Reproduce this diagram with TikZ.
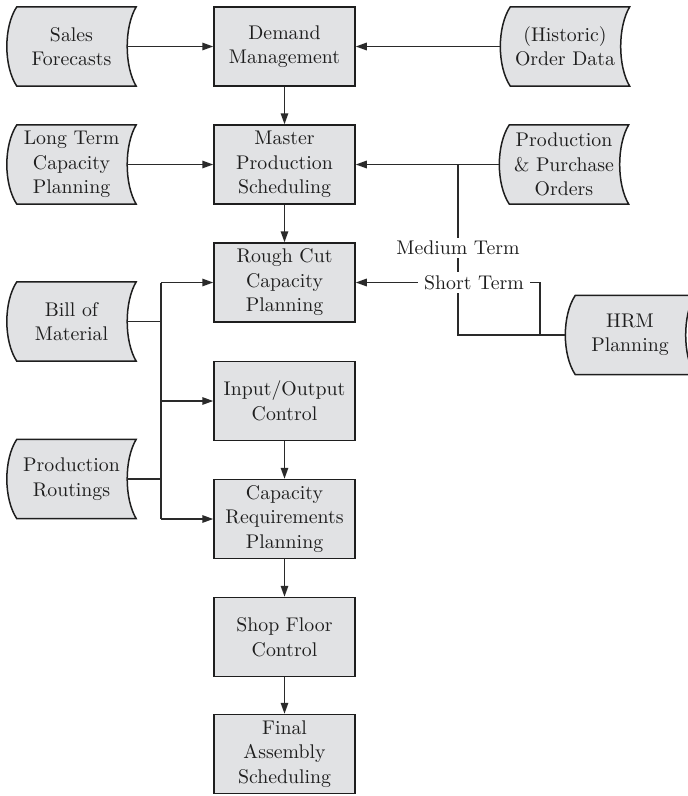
\documentclass[tikz,border=0pt]{standalone}
\usepackage{fontspec}
\setmainfont{lmroman10-regular.otf}
\usetikzlibrary{arrows.meta,backgrounds}
\definecolor{boxgray}{HTML}{E1E2E4}
\definecolor{ink}{HTML}{1E1E1E}
\definecolor{wire}{HTML}{2A2A2A}

% outline of a stored-data symbol: convex left side, concave right side
\newcommand\storeoutline[1]{%
  \path[storeshape] ([xshift=10pt]#1.north west) -- (#1.north east)
    .. controls ([xshift=-12pt,yshift=-20pt]#1.north east) and ([xshift=-12pt,yshift=20pt]#1.south east) .. (#1.south east)
    -- ([xshift=10pt]#1.south west)
    .. controls ([xshift=-3.3pt,yshift=20pt]#1.south west) and ([xshift=-3.3pt,yshift=-20pt]#1.north west) .. ([xshift=10pt]#1.north west)
    -- cycle;}

\begin{document}
\begin{tikzpicture}[x=1pt,y=-1pt,
  every node/.style={font=\fontsize{19.8}{24.5}\selectfont, text=ink, align=center},
  process/.style={rectangle, draw=ink, line width=1.5pt, fill=boxgray,
    minimum width=141pt, minimum height=79pt, inner sep=0pt},
  store/.style={rectangle, minimum width=129pt, minimum height=79pt, inner sep=0pt},
  storeshape/.style={draw=ink, line width=1.5pt, fill=boxgray},
  link/.style={draw=wire, line width=1.5pt},
  arr/.style={link, -{Triangle[length=11pt,width=7.5pt]}},
  term/.style={fill=white, inner xsep=6pt, inner ysep=3.5pt}]

\useasboundingbox (0,0) rectangle (688,796);

% main planning chain
\node[process] (dm)   at (284.5, 46.5)  {Demand\\Management};
\node[process] (mps)  at (284.5, 164.5) {Master\\Production\\Scheduling};
\node[process] (rccp) at (284.5, 282.5) {Rough Cut\\Capacity\\Planning};
\node[process] (io)   at (284.5, 401)   {Input/Output\\Control};
\node[process] (crp)  at (284.5, 519)   {Capacity\\Requirements\\Planning};
\node[process] (sfc)  at (284.5, 637)   {Shop Floor\\Control};
\node[process] (fas)  at (284.5, 754)   {Final\\Assembly\\Scheduling};

% data inputs
\node[store] (sf)   at (71.5, 46.5)  {Sales\\Forecasts};
\node[store] (ltcp) at (71.5, 164.5) {Long Term\\Capacity\\Planning};
\node[store] (bom)  at (71.5, 321.5) {Bill of\\Material};
\node[store] (pr)   at (71.5, 479)   {Production\\Routings};
\node[store] (hist) at (565, 46.5)   {(Historic)\\Order Data};
\node[store] (pp)   at (564, 164.5)  {Production\\\& Purchase\\Orders};
\node[store] (hrm)  at (630, 335)    {HRM\\Planning};

\begin{scope}[on background layer]
  \foreach \s in {sf,ltcp,bom,pr,hist,pp,hrm} {\storeoutline{\s}}
\end{scope}

% branching columns
\coordinate (trunk) at (161,0);
\coordinate (medx)  at (458,0);
\coordinate (shortx) at (540,0);

% vertical flow
\draw[arr] (dm) -- (mps);
\draw[arr] (mps) -- (rccp);
\draw[arr] (io) -- (crp);
\draw[arr] (crp) -- (sfc);
\draw[arr] (sfc) -- (fas);

% inputs from the left
\draw[arr] ([xshift=-9pt]sf.east) -- (dm.west);
\draw[arr] ([xshift=-9pt]ltcp.east) -- (mps.west);
\draw[link] ([xshift=-9pt]bom.east) -- (bom.east -| trunk);
\draw[link] ([xshift=-9pt]pr.east) -- (pr.east -| trunk);
\draw[link] (rccp.west -| trunk) -- (crp.west -| trunk);
\draw[arr] (rccp.west -| trunk) -- (rccp.west);
\draw[arr] (io.west -| trunk) -- (io.west);
\draw[arr] (crp.west -| trunk) -- (crp.west);

% inputs from the right
\draw[arr] (hist.west) -- (dm.east);
\draw[arr] (pp.west) -- (mps.east);
\draw[link] (hrm.west) -| (mps.east -| medx);
\draw[arr] (hrm.west -| shortx) |- (rccp.east);

% horizon labels
\node[term] (med)   at (458, 248)   {Medium Term};
\node[term] (short) at (474, 282.5) {Short Term};

\end{tikzpicture}
\end{document}
